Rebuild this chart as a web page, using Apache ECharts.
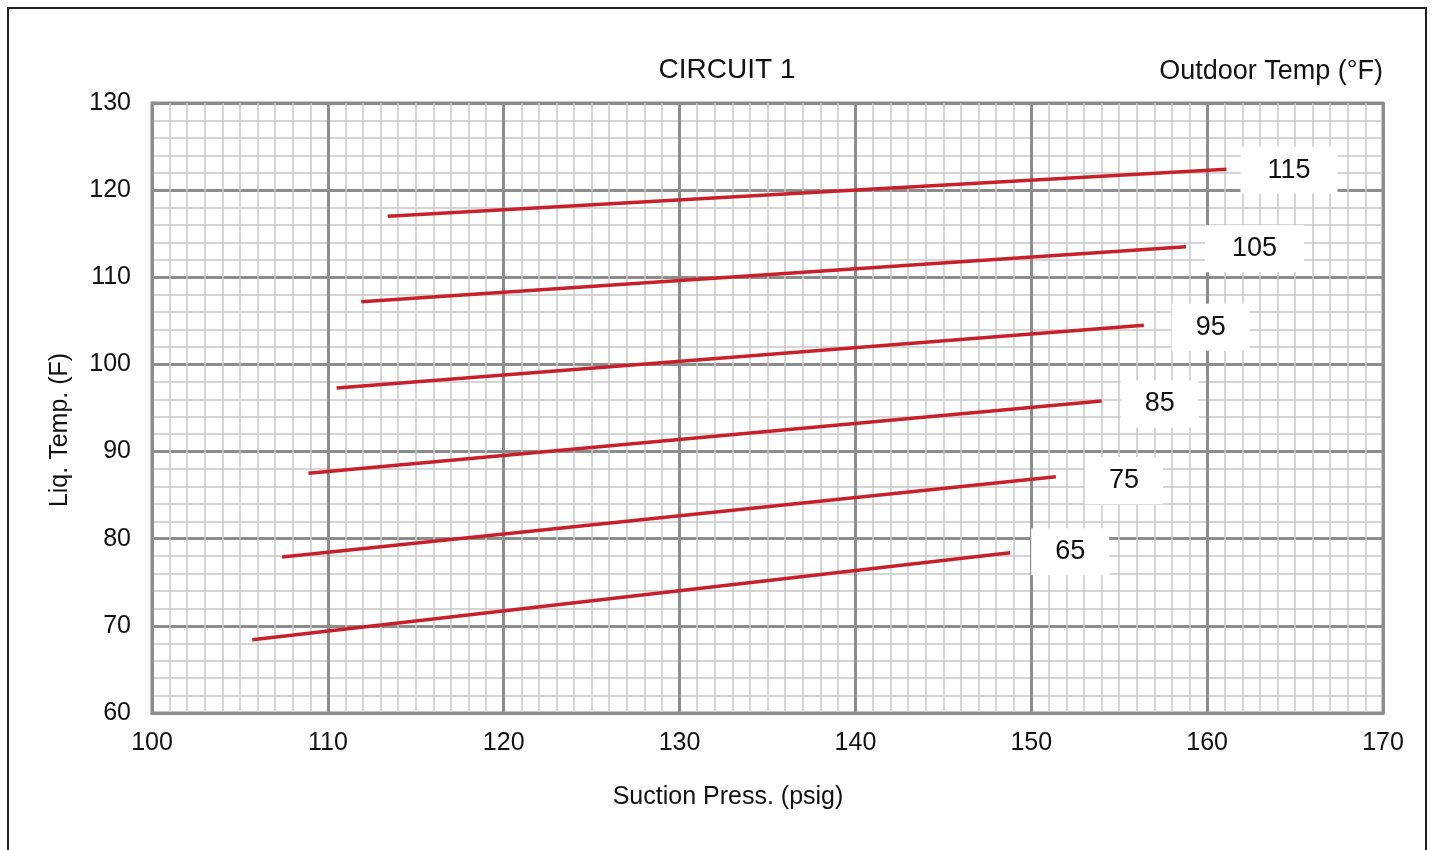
<!DOCTYPE html>
<html>
<head>
<meta charset="utf-8">
<script src="https://cdn.jsdelivr.net/npm/echarts@6/dist/echarts.min.js"></script>
<style>
html,body{margin:0;padding:0;background:#fff;}
#chart{width:1432px;height:850px;}
</style>
</head>
<body>
<div id="chart"></div>
<script>
// Outdoor temperature curves (°F)
const outdoorTemps = ['65', '75', '85', '95', '105', '115'];
// Suction pressure (psig) start/end of each curve
const press65  = [105.7, 148.8];
const press75  = [107.4, 151.4];
const press85  = [108.9, 154.0];
const press95  = [110.5, 156.4];
const press105 = [111.9, 158.8];
const press115 = [113.4, 161.1];
// Liquid temperature (F) at those points
const liq65  = [68.4, 78.4];
const liq75  = [77.9, 87.1];
const liq85  = [87.5, 95.8];
const liq95  = [97.3, 104.5];
const liq105 = [107.2, 113.5];
const liq115 = [117.0, 122.4];

const pressSets = [press65, press75, press85, press95, press105, press115];
const liqSets = [liq65, liq75, liq85, liq95, liq105, liq115];

const FONT = 'Liberation Sans, Arial, sans-serif';
const chart = echarts.init(document.getElementById('chart'), null, {renderer: 'canvas'});

// label box placement (style only)
const labelGap = [21, 29, 19, 28, 19, 14];
const labelDy = [-1, 4, 3, 2, 2, 1];

const series = outdoorTemps.map((name, i) => ({
  name: name,
  type: 'line',
  data: pressSets[i].map((p, j) => [p, liqSets[i][j]]),
  symbol: 'none',
  silent: true,
  lineStyle: {color: '#c8202a', width: 3.5},
  z: 5,
  endLabel: {
    show: true,
    formatter: name,
    color: '#111',
    fontFamily: FONT,
    fontSize: 27,
    backgroundColor: '#fff',
    padding: [11, name.length > 2 ? 27 : 24, 9, name.length > 2 ? 27 : 24],
    distance: labelGap[i],
    offset: [0, labelDy[i]]
  }
}));

chart.setOption({
  animation: false,
  backgroundColor: '#fff',
  grid: {left: 152, right: 49, top: 103, bottom: 137, show: true, borderColor: '#8c8c8c', borderWidth: 3, backgroundColor: 'transparent'},
  xAxis: {
    type: 'value', min: 100, max: 170, interval: 10,
    axisLine: {show: true, lineStyle: {color: '#8c8c8c', width: 3}},
    axisTick: {show: false},
    axisLabel: {color: '#111', fontFamily: FONT, fontSize: 25, margin: 18},
    splitLine: {show: true, lineStyle: {color: '#8c8c8c', width: 3}},
    minorTick: {show: false, splitNumber: 10},
    minorSplitLine: {show: true, lineStyle: {color: '#c8c8c8', width: 1.5}}
  },
  yAxis: {
    type: 'value', min: 60, max: 130, interval: 10,
    axisLine: {show: true, lineStyle: {color: '#8c8c8c', width: 3}},
    axisTick: {show: false},
    axisLabel: {color: '#111', fontFamily: FONT, fontSize: 25, margin: 21},
    splitLine: {show: true, lineStyle: {color: '#8c8c8c', width: 3}},
    minorTick: {show: false, splitNumber: 5},
    minorSplitLine: {show: true, lineStyle: {color: '#c8c8c8', width: 1.5}}
  },
  graphic: [
    {type: 'rect', shape: {x: 8, y: 8, width: 1418, height: 900}, style: {fill: 'none', stroke: '#231f20', lineWidth: 2}, silent: true},
    {type: 'text', x: 727, y: 70, style: {text: 'CIRCUIT 1', font: '28px ' + FONT, fill: '#111', textAlign: 'center', textVerticalAlign: 'middle'}},
    {type: 'text', x: 1383, y: 72, style: {text: 'Outdoor Temp (°F)', font: '27px ' + FONT, fill: '#111', textAlign: 'right', textVerticalAlign: 'middle'}},
    {type: 'text', x: 728, y: 797, style: {text: 'Suction Press. (psig)', font: '25px ' + FONT, fill: '#111', textAlign: 'center', textVerticalAlign: 'middle'}},
    {type: 'text', x: 60, y: 430, rotation: Math.PI / 2, style: {text: 'Liq. Temp. (F)', font: '25px ' + FONT, fill: '#111', textAlign: 'center', textVerticalAlign: 'middle'}}
  ],
  series: series
});
</script>
</body>
</html>
